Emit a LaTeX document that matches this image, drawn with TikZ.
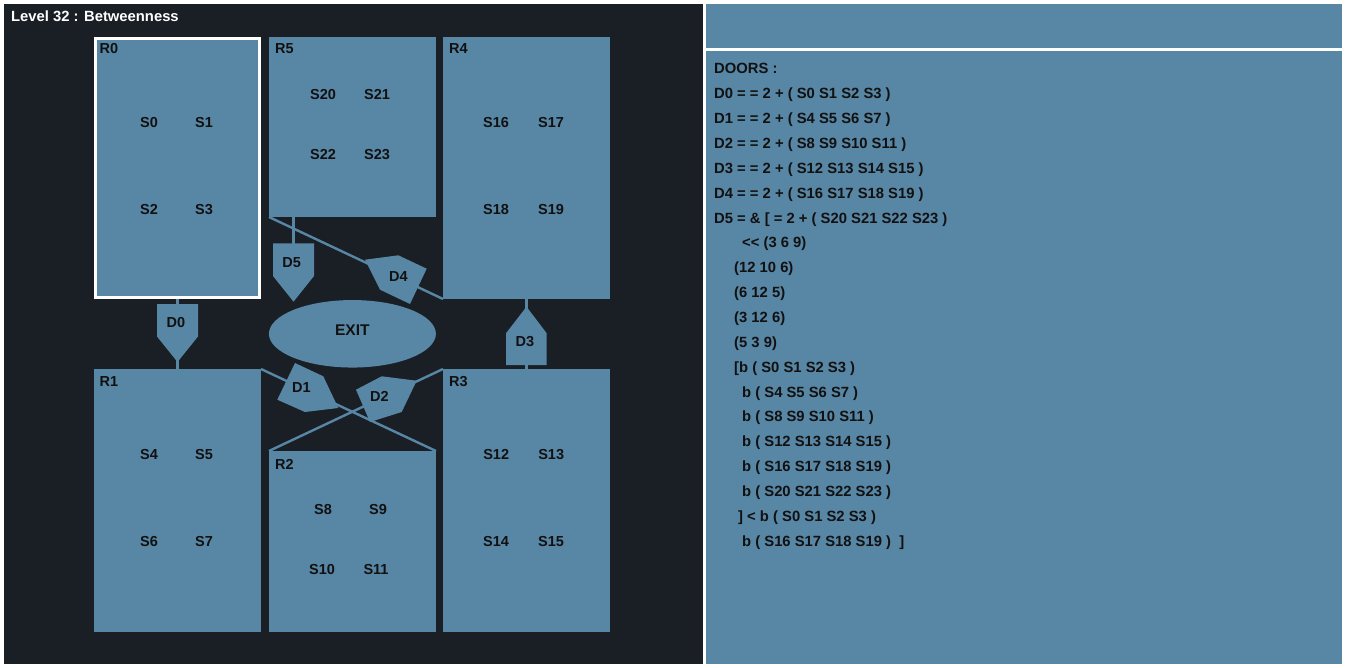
\documentclass[tikz,border=0pt]{standalone}
\usepackage{fontspec}
\setmainfont{Liberation Sans}
\usetikzlibrary{shapes.geometric}
\definecolor{panel}{HTML}{1A1F26}
\definecolor{room}{HTML}{5886A5}
\definecolor{ink}{HTML}{111111}
\pgfdeclarelayer{back}
\pgfdeclarelayer{mid}
\pgfsetlayers{back,mid,main}
\begin{document}
\begin{tikzpicture}[x=1pt,y=-1pt,
  roombox/.style={fill=room, draw=none, rectangle, inner sep=0pt, outer sep=0pt, minimum width=167pt, anchor=north west},
  lbl/.style={text=ink, font=\bfseries\fontsize{14.5}{17}\selectfont, inner sep=0pt},
  rlbl/.style={lbl, anchor=base west},
  conn/.style={draw=room, line width=2.4pt},
  doorshape/.style={fill=room, draw=none},
  txt/.style={text=ink, font=\bfseries\fontsize{14.8}{17}\selectfont, inner sep=0pt, anchor=base west}]
\useasboundingbox (0,0) rectangle (1346,668);
\begin{pgfonlayer}{back}
\fill[white] (0,0) rectangle (1346,668);
\fill[panel] (4,4) rectangle (703,664);
\fill[room] (706,4) rectangle (1342,48);
\fill[room] (706,51) rectangle (1342,664);
\end{pgfonlayer}

\node[text=white, font=\bfseries\fontsize{14.8}{17}\selectfont, inner sep=0pt, anchor=base west] (title) at (11,22) {Level 32 : Betweenness};

% rooms
\node[roombox, minimum width=164pt, minimum height=259pt, draw=white, line width=3pt, outer sep=1.5pt] (R0) at (94,37) {};
\node[roombox, minimum height=180pt] (R5) at (269,37) {};
\node[roombox, minimum height=262pt] (R4) at (443,37) {};
\node[roombox, minimum height=263pt] (R1) at (94,369) {};
\node[roombox, minimum height=181pt] (R2) at (269,451) {};
\node[roombox, minimum height=263pt] (R3) at (443,369) {};

\node[rlbl] (lR0) at (99.5,54) {R0};
\node[rlbl] (lR5) at (275,54) {R5};
\node[rlbl] (lR4) at (449,54) {R4};
\node[rlbl] (lR1) at (99.5,386) {R1};
\node[rlbl] (lR2) at (275,469) {R2};
\node[rlbl] (lR3) at (449,386) {R3};

% exit
\node[ellipse, fill=room, inner sep=0pt, outer sep=0pt, minimum width=167pt, minimum height=67.5pt] (exit) at (352.4,333.8) {};
\node[lbl, font=\bfseries\fontsize{15.5}{18}\selectfont] (exitlbl) at (352.3,330.5) {EXIT};

% connectors (under rooms and doors)
\coordinate (d5x) at (293.5,0);
\begin{pgfonlayer}{mid}
\draw[conn] (R0.south) -- (R1.north);
\draw[conn] (R4.south) -- (R3.north);
\draw[conn] (d5x |- R5.south) -- (d5x |- exit.north);
\draw[conn] (R5.south west) -- (R4.south west);
\draw[conn] (R1.north east) -- (R2.north east);
\draw[conn] (R3.north west) -- (R2.north west);
\end{pgfonlayer}

% doors
\fill[doorshape] (157,304) -- (198,304) -- (198,336.5) -- (177.5,362) -- (157,336.5) -- cycle;
\fill[doorshape] (273,243.3) -- (314,243.3) -- (314,276) -- (293.5,301.7) -- (273,276) -- cycle;
\fill[doorshape] (506,365) -- (546.7,365) -- (546.7,333.3) -- (526.5,306.7) -- (506,333.3) -- cycle;
\fill[doorshape] (365,259.7) -- (398.3,255.3) -- (426.7,268.7) -- (410,304) -- (380,289.7) -- cycle;
\fill[doorshape] (295,363) -- (323.3,376.3) -- (338.3,408) -- (305,412) -- (277.3,399.7) -- cycle;
\fill[doorshape] (356,389.7) -- (381.7,376.3) -- (416.7,380.7) -- (401.7,412) -- (370,422) -- cycle;

\node[lbl] (D0) at (175.8,322.2) {D0};
\node[lbl] (D5) at (291.7,262.5) {D5};
\node[lbl] (D3) at (524.8,342) {D3};
\node[lbl] (D4) at (398.3,276.3) {D4};
\node[lbl] (D1) at (301.3,387.3) {D1};
\node[lbl] (D2) at (379.5,396.7) {D2};

% slots
\foreach \n/\x/\y in {S0/149/122.5, S1/204/122.5, S2/149/209.5, S3/204/209.5,
  S20/323/94.5, S21/377/94.5, S22/323/154.5, S23/377/154.5,
  S16/496/122.5, S17/551/122.5, S18/496/209.5, S19/551/209.5,
  S4/149/454.5, S5/204/454.5, S6/149/541.5, S7/204/541.5,
  S8/323/509.5, S9/378/509.5, S10/322/569.5, S11/376/569.5,
  S12/496.2/454.5, S13/551.2/454.5, S14/496/541.5, S15/551/541.5}
  \node[lbl] (\n) at (\x,\y) {\n};

% right panel text
\foreach \xx/\t [count=\i from 0] in {
  714/{DOORS :},
  714/{D0 = = 2 + ( S0 S1 S2 S3 )},
  714/{D1 = = 2 + ( S4 S5 S6 S7 )},
  714/{D2 = = 2 + ( S8 S9 S10 S11 )},
  714/{D3 = = 2 + ( S12 S13 S14 S15 )},
  714/{D4 = = 2 + ( S16 S17 S18 S19 )},
  714/{D5 = \& [ = 2 + ( S20 S21 S22 S23 )},
  742/{<{}< (3 6 9)},
  734/{(12 10 6)},
  734/{(6 12 5)},
  734/{(3 12 6)},
  734/{(5 3 9)},
  734/{[b ( S0 S1 S2 S3 )},
  742/{b ( S4 S5 S6 S7 )},
  742/{b ( S8 S9 S10 S11 )},
  742/{b ( S12 S13 S14 S15 )},
  742/{b ( S16 S17 S18 S19 )},
  742/{b ( S20 S21 S22 S23 )},
  738/{] < b ( S0 S1 S2 S3 )},
  742/{b ( S16 S17 S18 S19 )\ \ ]}}
  \node[txt] (t\i) at (\xx, 74+24.85*\i) {\t};
\end{tikzpicture}
\end{document}
